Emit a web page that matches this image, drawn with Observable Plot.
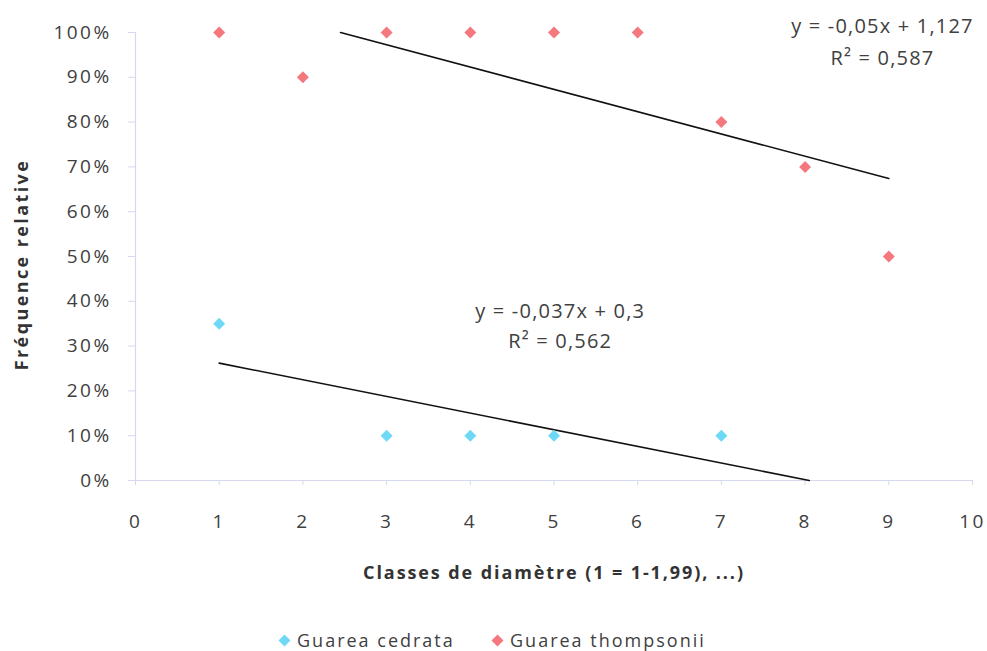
<!DOCTYPE html>
<html><head><meta charset="utf-8">
<script src="https://cdn.jsdelivr.net/npm/d3@7"></script>
<script src="https://cdn.jsdelivr.net/npm/@observablehq/plot@0.6"></script>
<style>
body{margin:0;background:#fff;font-family:"Open Sans",sans-serif;}
#chart{position:relative;width:987px;height:651px;overflow:hidden}
.leg{position:absolute;top:628px;font-size:18px;letter-spacing:2px;color:#404040;display:flex;align-items:center;white-space:nowrap}
.leg svg{margin-right:6px}
</style></head>
<body><div id="chart"></div>
<script>
// Data
const classes = [1, 2, 3, 4, 5, 6, 7, 8, 9];
const thompsonii = [1.00, 0.90, 1.00, 1.00, 1.00, 1.00, 0.80, 0.70, 0.50];
const cedrataX = [1, 3, 4, 5, 7];
const cedrataY = [0.35, 0.10, 0.10, 0.10, 0.10];
// Trend line endpoints (as drawn)
const trendThompX = [2.45, 9];
const trendThompY = [1.0, 0.674];
const trendCedX = [1, 8.05];
const trendCedY = [0.262, 0];
const xTicks = [0, 1, 2, 3, 4, 5, 6, 7, 8, 9, 10];
const yTicks = [0, 0.1, 0.2, 0.3, 0.4, 0.5, 0.6, 0.7, 0.8, 0.9, 1.0];
const seriesNames = ["Guarea cedrata", "Guarea thompsonii"];
const colors = ["#6ed8f5", "#f4787e"];
const eqThomp = ["y = -0,05x + 1,127", "R² = 0,587"];
const eqCed = ["y = -0,037x + 0,3", "R² = 0,562"];
const xTitle = "Classes de diamètre (1 = 1-1,99), ...)";
const yTitle = "Fréquence relative";

const ptsT = classes.map((c, i) => ({x: c, y: thompsonii[i]}));
const ptsC = cedrataX.map((c, i) => ({x: c, y: cedrataY[i]}));
const lineT = trendThompX.map((x, i) => ({x, y: trendThompY[i]}));
const lineC = trendCedX.map((x, i) => ({x, y: trendCedY[i]}));

const axisColor = "#d6d9ee";
const textColor = "#404040";

const plot = Plot.plot({
  width: 987, height: 615,
  marginLeft: 135, marginRight: 15, marginTop: 32, marginBottom: 135,
  style: {fontFamily: "'Open Sans', sans-serif", fontSize: "19px", color: textColor, background: "#fff"},
  x: {domain: [0, 10]},
  y: {domain: [0, 1]},
  marks: [
    Plot.ruleX([0], {stroke: axisColor, strokeWidth: 1.2}),
    Plot.ruleY([0], {stroke: axisColor, strokeWidth: 1.2}),
    Plot.axisX({ticks: xTicks, tickSize: 5, tickPadding: 29, stroke: axisColor, fill: textColor, label: null, fontSize: 19}),
    Plot.axisY({ticks: yTicks, tickSize: 7, tickPadding: 17, tickFormat: d3.format(".0%"), stroke: axisColor, fill: textColor, label: null, fontSize: 19}),
    Plot.line(lineT, {x: "x", y: "y", stroke: "#111", strokeWidth: 1.6}),
    Plot.line(lineC, {x: "x", y: "y", stroke: "#111", strokeWidth: 1.6}),
    Plot.dot(ptsT, {x: "x", y: "y", symbol: "diamond2", r: 5.4, fill: colors[1], stroke: null}),
    Plot.dot(ptsC, {x: "x", y: "y", symbol: "diamond2", r: 5.4, fill: colors[0], stroke: null}),
    Plot.text([xTitle], {frameAnchor: "bottom", dy: 98, fontWeight: "bold", fontSize: 18, fill: "#333"}),
    Plot.text([yTitle], {frameAnchor: "left", dx: -113, dy: 8, rotate: -90, textAnchor: "middle", fontWeight: "bold", fontSize: 18, fill: "#333"})
  ]
});
document.getElementById("chart").appendChild(plot);

const svg = d3.select(plot);
// letter spacing tweaks (to match the wide-set type of the reference)
svg.selectAll('g[aria-label="x-axis tick label"] text, g[aria-label="y-axis tick label"] text').attr("letter-spacing", "2.4px");
svg.selectAll("text").filter(function(){ return this.textContent === xTitle; }).attr("letter-spacing", "1.9px");
svg.selectAll("text").filter(function(){ return this.textContent === yTitle; }).attr("letter-spacing", "2.4px");

// Equation annotations placed via the plot scales
const sx = plot.scale("x"), sy = plot.scale("y");
function eq(lines, cx, cy, gap) {
  lines.forEach((t, i) => {
    svg.append("text").attr("x", sx.apply(cx)).attr("y", sy.apply(cy) + i * gap)
      .attr("text-anchor", "middle").attr("dominant-baseline", "middle")
      .attr("font-size", 20).attr("fill", textColor).attr("letter-spacing", "1.2px").text(t);
  });
}
eq(eqThomp, 8.93, 1.01, 32);
eq(eqCed, 5.08, 0.374, 30);

// Legend
const legPos = [278, 491];
seriesNames.forEach((n, i) => {
  const d = document.createElement("div");
  d.className = "leg";
  d.style.left = legPos[i] + "px";
  d.innerHTML = `<svg width="13" height="13" viewBox="-6.5 -6.5 13 13"><path d="M0,-6L6,0L0,6L-6,0Z" fill="${colors[i]}"/></svg><span>${n}</span>`;
  document.getElementById("chart").appendChild(d);
});
</script>
</body></html>
